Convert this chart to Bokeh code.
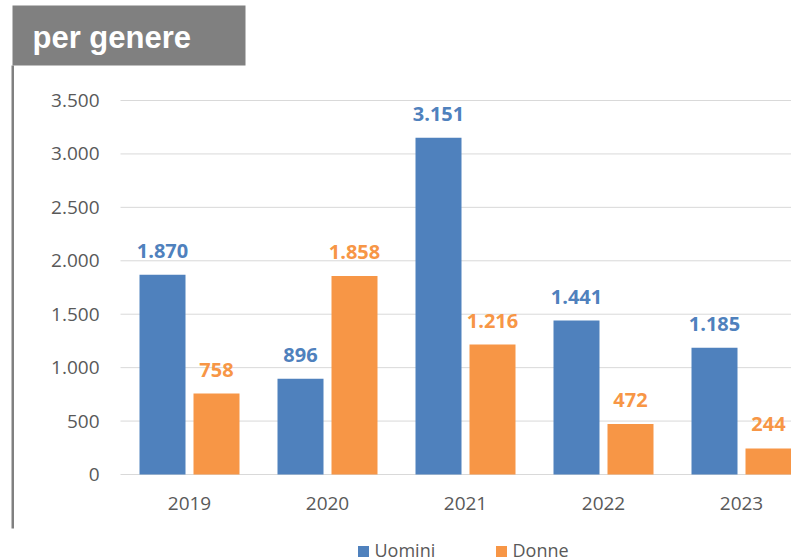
from bokeh.plotting import figure
from bokeh.models import Range1d, ColumnDataSource
from bokeh.core.properties import value
from bokeh.embed import file_html
from bokeh.resources import INLINE

# ---- data ----
years = ["2019", "2020", "2021", "2022", "2023"]
uomini = [1870, 896, 3151, 1441, 1185]
donne = [758, 1858, 1216, 472, 244]
y_ticks = [0, 500, 1000, 1500, 2000, 2500, 3000, 3500]
series_names = ["Uomini", "Donne"]
title_text = "per genere"

BLUE = "#4F81BD"
ORANGE = "#F79646"
GRID = "#D9D9D9"
TXT = "#595959"
FONT = "Open Sans"

def fmt(v):
    return f"{v:,}".replace(",", ".")

# ---- layout: frame covers whole canvas; map page pixels to data ----
W, H = 791, 560
CAT_W = 138.0           # px per category
X0_PX = 189.0           # page x of first category centre
Y0_PX = 474.0           # page y of value 0
PX_PER_UNIT = 374.0 / 3500.0

def px(x):  # page x -> data x
    return (x - X0_PX) / CAT_W

def py(y):  # page y -> data y
    return (Y0_PX - y) / PX_PER_UNIT

p = figure(width=W, height=H, output_backend="svg", toolbar_location=None,
           x_axis_type=None, y_axis_type=None,
           x_range=Range1d(px(0), px(W)), y_range=Range1d(py(H), py(0)),
           min_border=0, min_border_left=0, min_border_right=0,
           min_border_top=0, min_border_bottom=0)
p.outline_line_color = None
p.background_fill_color = "white"
p.border_fill_color = "white"
p.xgrid.visible = False
p.ygrid.visible = False

idx = list(range(len(years)))
bar_w = 46.0 / CAT_W
off = 27.0 / CAT_W

# gridlines
p.segment(x0=[-0.5] * len(y_ticks), x1=[px(800)] * len(y_ticks), y0=y_ticks, y1=y_ticks,
          line_color=GRID, line_width=1)

src = ColumnDataSource(dict(
    xu=[i - off for i in idx], xd=[i + off for i in idx],
    u=uomini, d=donne,
    ul=[fmt(v) for v in uomini], dl=[fmt(v) for v in donne],
))
p.vbar(x="xu", top="u", bottom=0, width=bar_w, source=src, fill_color=BLUE, line_color=None)
p.vbar(x="xd", top="d", bottom=0, width=bar_w, source=src, fill_color=ORANGE, line_color=None)

# value labels
p.text(x="xu", y="u", text="ul", source=src, text_font=value(FONT), text_font_style="bold",
       text_font_size="20px", text_color=BLUE, text_align="center", text_baseline="middle",
       y_offset=-24)
p.text(x="xd", y="d", text="dl", source=src, text_font=value(FONT), text_font_style="bold",
       text_font_size="20px", text_color=ORANGE, text_align="center", text_baseline="middle",
       y_offset=-24)

# y tick labels
p.text(x=[-0.5] * len(y_ticks), y=y_ticks, text=[fmt(v) for v in y_ticks],
       text_font=value(FONT), text_font_size="19px", text_color=TXT,
       text_align="right", text_baseline="middle", x_offset=-21)

# x tick labels
p.text(x=idx, y=[0] * len(idx), text=years, text_font=value(FONT), text_font_size="19px",
       text_color=TXT, text_align="center", text_baseline="middle", y_offset=29)

# title box and left rule
p.quad(left=[px(12)], right=[px(245)], top=[py(5)], bottom=[py(65)],
       fill_color="#808080", line_color=None)
p.quad(left=[px(11)], right=[px(13.5)], top=[py(65)], bottom=[py(528)],
       fill_color="#808080", line_color=None)
p.text(x=[px(32)], y=[py(37)], text=[title_text], text_font=value("Liberation Sans"),
       text_font_style="bold", text_font_size="31px", text_color="white",
       text_align="left", text_baseline="middle")

# legend
p.scatter(x=[px(363), px(501)], y=[py(551), py(551)], marker="square", size=11,
          fill_color=[BLUE, ORANGE], line_color=None)
p.text(x=[px(374), px(512)], y=[py(549), py(549)], text=series_names,
       text_font=value(FONT), text_font_size="18px", text_color=TXT,
       text_align="left", text_baseline="middle")

open("out.html", "w").write(file_html(p, INLINE))
